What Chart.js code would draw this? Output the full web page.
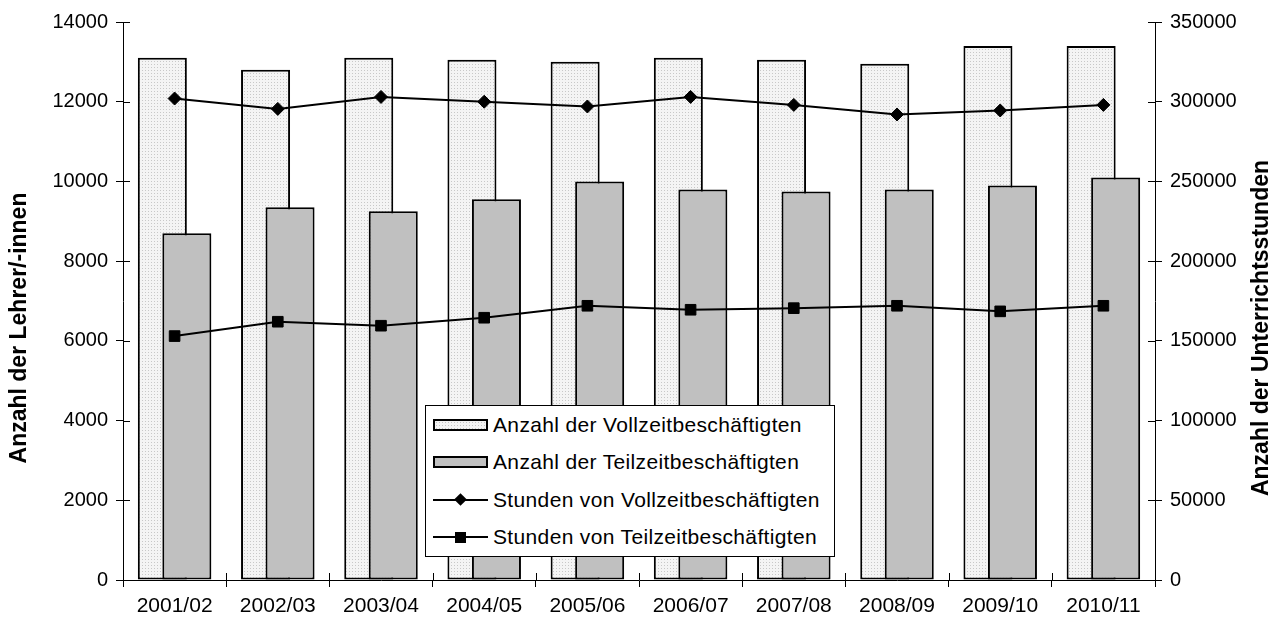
<!DOCTYPE html>
<html>
<head>
<meta charset="utf-8">
<script src="https://cdn.jsdelivr.net/npm/chart.js@4.4.1/dist/chart.umd.min.js"></script>
<style>
  body { margin: 0; background: #fff; font-family: "Liberation Sans", Arial, sans-serif; }
  #wrap { position: relative; width: 1276px; height: 620px; }
  #legend {
    position: absolute; left: 425px; top: 405px; width: 410px; height: 152px;
    box-sizing: border-box; border: 1px solid #000; background: #fff;
  }
  .row { display: flex; align-items: center; height: 37.5px; font-size: 21px; letter-spacing: 0.35px; color: #000; white-space: nowrap; }
  .sw { position: relative; width: 55px; height: 12px; margin: 0 5px 0 7px; flex: none; }
  .sw.bar { box-sizing: border-box; border: 2px solid #000; }
  .sw.dots { background-color: #f3f3f3; background-image: radial-gradient(#c4c4c4 0.8px, transparent 0.9px); background-size: 3px 3px; }
  .sw.solid { background: #c0c0c0; }
  .sw.line::before { content: ""; position: absolute; left: 0; right: 0; top: 5px; height: 2px; background: #000; }
  .mk { position: absolute; background: #000; }
  .mk.diamond { width: 9px; height: 9px; left: 23px; top: 1.5px; transform: rotate(45deg); }
  .mk.square { width: 11px; height: 11px; left: 22px; top: 0.5px; }
</style>
</head>
<body>
<div id="wrap">
  <canvas id="chart"></canvas>
  <div id="legend">
    <div class="row"><span class="sw bar dots"></span>Anzahl der Vollzeitbeschäftigten</div>
    <div class="row"><span class="sw bar solid"></span>Anzahl der Teilzeitbeschäftigten</div>
    <div class="row"><span class="sw line"><span class="mk diamond"></span></span>Stunden von Vollzeitbeschäftigten</div>
    <div class="row"><span class="sw line"><span class="mk square"></span></span>Stunden von Teilzeitbeschäftigten</div>
  </div>
</div>
<script>
// ── Data ──────────────────────────────────────────────────
const seasons = ["2001/02", "2002/03", "2003/04", "2004/05", "2005/06",
                 "2006/07", "2007/08", "2008/09", "2009/10", "2010/11"];

const vollzeitTeachers = [13100, 12800, 13100, 13050, 13000, 13100, 13050, 12950, 13400, 13400];
const teilzeitTeachers = [8700, 9350, 9250, 9550, 10000, 9800, 9750, 9800, 9900, 10100];

const vollzeitHours = [302000, 295500, 303000, 300000, 297000, 303000, 298000, 292000, 294500, 298000];
const teilzeitHours = [153000, 162000, 159500, 164500, 172000, 169500, 170500, 172000, 168500, 172000];

const leftTicks  = { min: 0, max: 14000, step: 2000 };
const rightTicks = { min: 0, max: 350000, step: 50000 };

const leftTitle  = "Anzahl der Lehrer/-innen";
const rightTitle = "Anzahl der Unterrichtsstunden";

// ── Styling ───────────────────────────────────────────────
const FONT = "'Liberation Sans', Arial, sans-serif";
Chart.defaults.font.family = FONT;
Chart.defaults.color = "#000";

function dotPattern() {
  const c = document.createElement("canvas");
  c.width = 3; c.height = 3;
  const g = c.getContext("2d");
  g.fillStyle = "#f4f4f4";
  g.fillRect(0, 0, 3, 3);
  g.fillStyle = "#c8c8c8";
  g.fillRect(1, 1, 1, 1);
  return g.createPattern(c, "repeat");
}

// Vollzeit bar sits left but is drawn behind the Teilzeit bar
const behindPlugin = {
  id: "behind",
  beforeDatasetsDraw(chart) {
    chart.getDatasetMeta(0).controller.draw();
  },
  beforeDatasetDraw(chart, args) {
    if (args.index === 0) return false;
  },
};

// tick marks crossing the axis lines (inner half) + axis titles
const innerTicks = {
  id: "innerTicks",
  afterDraw(chart) {
    const { ctx, scales } = chart;
    const len = 7;
    ctx.save();
    ctx.strokeStyle = "#000";
    ctx.lineWidth = 1;
    ctx.beginPath();
    scales.y.ticks.forEach((t, i) => {
      const y = Math.round(scales.y.getPixelForTick(i)) + 0.5;
      ctx.moveTo(scales.y.right, y); ctx.lineTo(scales.y.right + len, y);
    });
    scales.y2.ticks.forEach((t, i) => {
      const y = Math.round(scales.y2.getPixelForTick(i)) + 0.5;
      ctx.moveTo(scales.y2.left - len, y); ctx.lineTo(scales.y2.left, y);
    });
    const x = scales.x;
    const w = (x.right - x.left) / seasons.length;
    for (let i = 0; i <= seasons.length; i++) {
      const px = Math.round(x.left + i * w) + 0.5;
      ctx.moveTo(px, x.top - len); ctx.lineTo(px, x.top);
    }
    ctx.stroke();

    // both titles read bottom-to-top
    ctx.font = `bold 23px ${FONT}`;
    ctx.fillStyle = "#000";
    ctx.textAlign = "center";
    ctx.textBaseline = "middle";
    [[20, leftTitle], [1262, rightTitle]].forEach(([tx, text]) => {
      ctx.save();
      ctx.translate(tx, 328);
      ctx.rotate(-Math.PI / 2);
      ctx.fillText(text, 0, 0);
      ctx.restore();
    });
    ctx.restore();
  },
};

const axisGrid = { drawOnChartArea: false, drawTicks: true, tickLength: 7, color: "#000", lineWidth: 1 };
const plainNumber = v => String(v);

new Chart(document.getElementById("chart"), {
  type: "bar",
  data: {
    labels: seasons,
    datasets: [
      {
        label: "Anzahl der Vollzeitbeschäftigten",
        data: vollzeitTeachers,
        backgroundColor: dotPattern(),
        borderColor: "#000",
        borderWidth: 2,
        borderSkipped: false,
        categoryPercentage: 0.475,
        barPercentage: 2,
        yAxisID: "y",
        order: 0,
      },
      {
        label: "Anzahl der Teilzeitbeschäftigten",
        data: teilzeitTeachers,
        backgroundColor: "#c0c0c0",
        borderColor: "#000",
        borderWidth: 2,
        borderSkipped: false,
        categoryPercentage: 0.475,
        barPercentage: 2,
        yAxisID: "y",
        order: 0,
      },
      {
        type: "line",
        label: "Stunden von Vollzeitbeschäftigten",
        data: vollzeitHours,
        borderColor: "#000",
        borderWidth: 2,
        pointStyle: "rectRot",
        pointRadius: 6.5,
        pointBackgroundColor: "#000",
        pointBorderColor: "#000",
        pointBorderWidth: 1,
        tension: 0,
        yAxisID: "y2",
        order: -1,
      },
      {
        type: "line",
        label: "Stunden von Teilzeitbeschäftigten",
        data: teilzeitHours,
        borderColor: "#000",
        borderWidth: 2,
        pointStyle: "rect",
        pointRadius: 7.5,
        pointBackgroundColor: "#000",
        pointBorderColor: "#000",
        pointBorderWidth: 1,
        tension: 0,
        yAxisID: "y2",
        order: -1,
      },
    ],
  },
  options: {
    responsive: true,
    maintainAspectRatio: false,
    animation: false,
    layout: { padding: { top: 22, left: 0, right: 0, bottom: 0 } },
    plugins: {
      legend: { display: false },
      tooltip: { enabled: false },
    },
    scales: {
      x: {
        type: "category",
        offset: true,
        grid: { ...axisGrid, offset: true },
        border: { color: "#000", width: 1 },
        ticks: { font: { size: 21 }, padding: 7, maxRotation: 0, autoSkip: false },
        afterFit(scale) { scale.height = 40; },
      },
      y: {
        position: "left",
        min: leftTicks.min,
        max: leftTicks.max,
        grid: axisGrid,
        border: { color: "#000", width: 1 },
        ticks: { stepSize: leftTicks.step, font: { size: 20 }, padding: 8, callback: plainNumber },
        afterFit(scale) { scale.width = 123; },
      },
      y2: {
        position: "right",
        min: rightTicks.min,
        max: rightTicks.max,
        grid: axisGrid,
        border: { color: "#000", width: 1 },
        ticks: { stepSize: rightTicks.step, font: { size: 20 }, padding: 8, callback: plainNumber },
        afterFit(scale) { scale.width = 121; },
      },
    },
  },
  plugins: [behindPlugin, innerTicks],
});
</script>
</body>
</html>
